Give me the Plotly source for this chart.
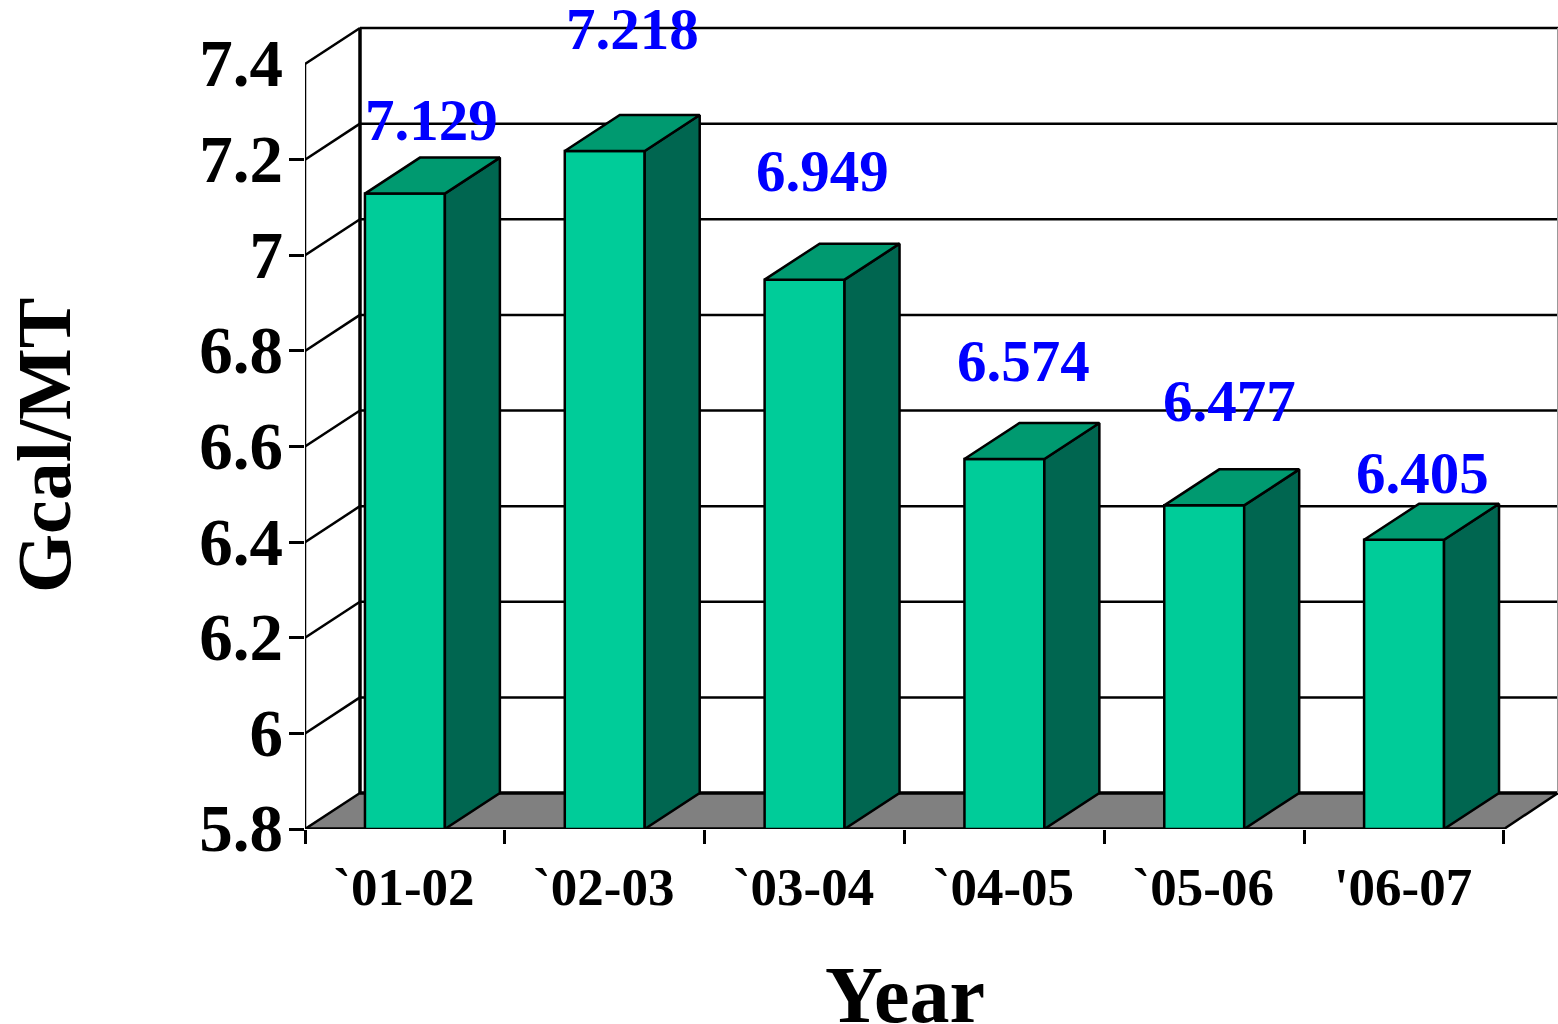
import plotly.graph_objects as go

# Specific energy consumption by year
years = ["`01-02", "`02-03", "`03-04", "`04-05", "`05-06", "'06-07"]
consumption = [7.129, 7.218, 6.949, 6.574, 6.477, 6.405]
y_ticks = [5.8, 6.0, 6.2, 6.4, 6.6, 6.8, 7.0, 7.2, 7.4]
y_tick_text = ["5.8", "6", "6.2", "6.4", "6.6", "6.8", "7", "7.2", "7.4"]
label_shift_x = [27, 28, 18, 19, 25, 18]
label_shift_y = [74, 122, 109, 98, 104, 67]

FRONT = "#00CC99"
SIDE = "#006650"
TOP = "#009A70"
FLOOR = "#808080"
BLACK = "#000000"

# Scale of the plotting area, in pixels per data unit
X_PX = 199.83
Y_PX = 478.1
LEFT_PX, BOTTOM_PX = 305, 829
WIDTH_PX, HEIGHT_PX = 1558, 1024

# Oblique depth of the box, in data units
DX = 55 / X_PX
DY = 36 / Y_PX
BAR_W = 0.4
BASE = y_ticks[0]
X_MAX = (WIDTH_PX - LEFT_PX) / X_PX
Y_MAX = BASE + BOTTOM_PX / Y_PX
N = len(years)
centers = [i + 0.5 for i in range(N)]

fig = go.Figure()

shapes = []
line = dict(color=BLACK, width=2.5)
heavy = dict(color=BLACK, width=3.5)


def wall_line(x0, y0, x1, y1, style=line):
    return dict(type="line", layer="below", xref="x", yref="y",
                x0=x0, x1=x1, y0=y0, y1=y1, line=style)


# Floor of the box
shapes.append(dict(
    type="path", layer="below", xref="x", yref="y",
    path=f"M0,{BASE} L{DX},{BASE + DY} L{X_MAX},{BASE + DY} L{N},{BASE} Z",
    fillcolor=FLOOR, line=dict(width=0),
))
# Back-wall gridlines and the matching lines on the side wall
for t in y_ticks:
    if t != BASE:
        shapes.append(wall_line(DX, t + DY, X_MAX, t + DY))
    shapes.append(wall_line(0, t, DX, t + DY))
shapes.append(wall_line(DX, BASE + DY, X_MAX, BASE + DY, heavy))
shapes.append(wall_line(DX, BASE + DY, DX, y_ticks[-1] + DY, heavy))
shapes.append(wall_line(0, BASE, 0, y_ticks[-1]))
shapes.append(wall_line(0, BASE, N, BASE, heavy))
shapes.append(wall_line(N, BASE, X_MAX, BASE + DY))
shapes.append(wall_line(X_MAX, BASE + DY, X_MAX, y_ticks[-1] + DY,
                        dict(color="#999999", width=2)))

# Front faces
fig.add_trace(go.Bar(
    x=centers, y=[v - BASE for v in consumption], base=BASE, width=BAR_W,
    marker=dict(color=FRONT, line=dict(color=BLACK, width=2.5)),
    showlegend=False, hoverinfo="skip",
))

# Side and top faces of each bar
for c, v in zip(centers, consumption):
    xl, xr = c - BAR_W / 2, c + BAR_W / 2
    fig.add_trace(go.Scatter(
        x=[xr, xr + DX, xr + DX, xr, xr], y=[BASE, BASE + DY, v + DY, v, BASE],
        mode="lines", fill="toself", fillcolor=SIDE, line=line,
        showlegend=False, hoverinfo="skip",
    ))
    fig.add_trace(go.Scatter(
        x=[xl, xl + DX, xr + DX, xr, xl], y=[v, v + DY, v + DY, v, v],
        mode="lines", fill="toself", fillcolor=TOP, line=line,
        showlegend=False, hoverinfo="skip",
    ))

# Value labels
annotations = [
    dict(x=c, y=v, xref="x", yref="y", text=f"{v:.3f}", showarrow=False,
         xshift=sx, yshift=sy, xanchor="center", yanchor="middle",
         font=dict(family="Liberation Serif", size=59, color="#0000FF", weight="bold"))
    for c, v, sx, sy in zip(centers, consumption, label_shift_x, label_shift_y)
]
# Axis titles
annotations.append(dict(
    x=905 / WIDTH_PX, y=1 - 995 / HEIGHT_PX, xref="paper", yref="paper",
    text="Year", showarrow=False, xanchor="center", yanchor="middle",
    font=dict(family="Liberation Serif", size=80, color=BLACK, weight="bold"),
))
annotations.append(dict(
    x=44 / WIDTH_PX, y=1 - 445 / HEIGHT_PX, xref="paper", yref="paper",
    text="Gcal/MT", showarrow=False, textangle=-90, xanchor="center", yanchor="middle",
    font=dict(family="Liberation Serif", size=76, color=BLACK, weight="bold"),
))

fig.update_layout(
    width=WIDTH_PX, height=HEIGHT_PX,
    margin=dict(l=0, r=0, t=0, b=0, autoexpand=False),
    paper_bgcolor="white", plot_bgcolor="rgba(0,0,0,0)",
    showlegend=False, shapes=shapes, annotations=annotations,
    xaxis=dict(
        domain=[LEFT_PX / WIDTH_PX, 1], range=[0, X_MAX], automargin=False,
        tickmode="array", tickvals=centers, ticktext=years,
        ticks="", ticklen=0, ticklabelstandoff=22, ticklabelshift=-1,
        showgrid=False, zeroline=False, showline=False,
        tickfont=dict(family="Liberation Serif", size=53, color=BLACK, weight="bold"),
        minor=dict(tickmode="array", tickvals=list(range(N + 1)),
                   ticks="outside", ticklen=14, tickwidth=2.5, tickcolor=BLACK, showgrid=False),
    ),
    yaxis=dict(
        domain=[(HEIGHT_PX - BOTTOM_PX) / HEIGHT_PX, 1], range=[BASE, Y_MAX], automargin=False,
        tickmode="array", tickvals=y_ticks, ticktext=y_tick_text,
        ticks="", ticklabelstandoff=21, ticklabelshift=-1,
        showgrid=False, zeroline=False, showline=False,
        tickfont=dict(family="Liberation Serif", size=67, color=BLACK, weight="bold"),
        minor=dict(tickmode="array", tickvals=y_ticks[:-1],
                   ticks="outside", ticklen=15, tickwidth=2.5, tickcolor=BLACK, showgrid=False),
    ),
)

fig.write_html("out.html")
